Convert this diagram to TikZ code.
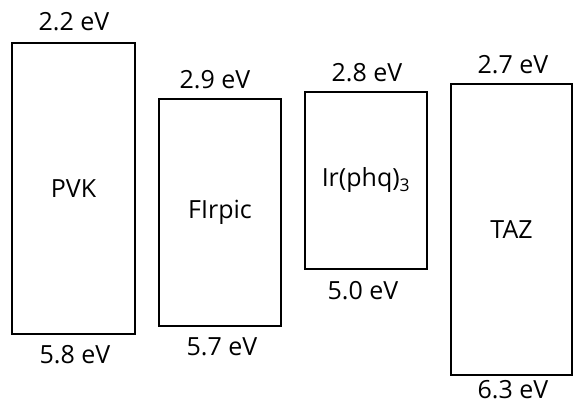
\documentclass[tikz,border=0pt]{standalone}
\usepackage{fontspec}
\setmainfont{Open Sans}
\usepackage{tikz}
\usetikzlibrary{positioning}
\tikzset{level/.style={draw, line width=1.8pt, inner sep=0pt},
         energy/.style={inner sep=1pt}}

\begin{document}
\begin{tikzpicture}[x=1pt, y=-1pt, every node/.style={font=\fontsize{25}{30}\selectfont}]
        \useasboundingbox (0,0) rectangle (573,406);
        % Levels
        \node[level, minimum width=123pt, minimum height=291pt] (PVK) at (73.5, 188.5) {PVK};
        \node[level, minimum width=122pt, minimum height=227pt] (FIrpic) at (220, 212.5) {FIrpic};
        \node[level, minimum width=122pt, minimum height=177pt] (Irphq) at (366, 180.5) {Ir(phq)\textsubscript{3}};
        \node[level, minimum width=121pt, minimum height=291pt] (TAZ) at (511.5, 229.5) {TAZ};

        % Energies
        \node[energy] (PVKlumo) at (74, 22) {2.2 eV};
        \node[energy] (PVKhomo) at (75, 355) {5.8 eV};
        \node[energy] (FIrpiclumo) at (215, 80) {2.9 eV};
        \node[energy] (FIrpichomo) at (222, 347) {5.7 eV};
        \node[energy] (Irphqlumo) at (367, 73) {2.8 eV};
        \node[energy] (Irphqhomo) at (363, 291) {5.0 eV};
        \node[energy] (TAZlumo) at (513, 65) {2.7 eV};
        \node[energy] (TAZhomo) at (513, 390) {6.3 eV};
    \end{tikzpicture}
\end{document}
